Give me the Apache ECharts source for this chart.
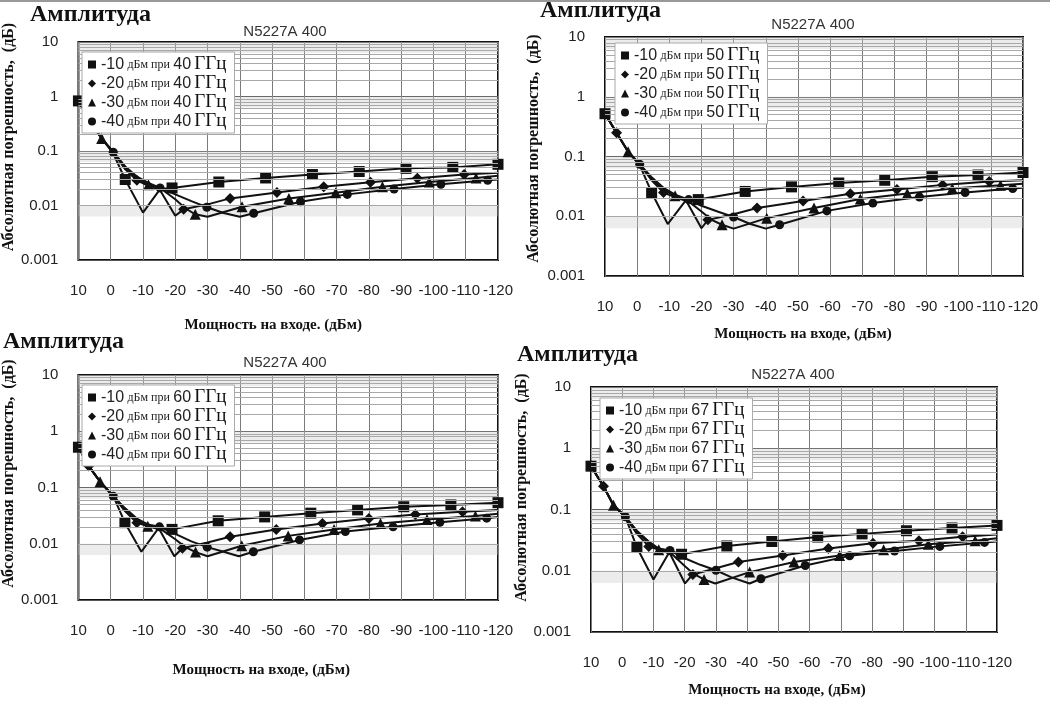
<!DOCTYPE html>
<html><head><meta charset="utf-8">
<script src="https://cdn.jsdelivr.net/npm/echarts@6/dist/echarts.min.js"></script>
<style>html,body{margin:0;padding:0;background:#fff}#c{width:1050px;height:704px}</style>
</head><body><div id="c"></div>
<script>
// ---------- data ----------
const freqs = ['40', '50', '60', '67'];
const levelNames = ['-10 дБм при', '-20 дБм при', '-30 дБм пои', '-40 дБм при'];
const yTickValues = [10, 1, 0.1, 0.01, 0.001];
const xMin = -120, xMax = 10;

// which points of each series carry a marker (1) or are plain line vertices (0)
const marksM10 = [1,0,0,0,1,0,0,1,1,1,1,1,1,1,1];
const marksM20 = [0,1,0,0,0,1,0,0,0,1,0,1,1,1,1,1,1,0];
const marksM30 = [0,0,1,0,0,0,1,0,0,0,1,0,1,1,1,1,1,1,0];
const marksM40 = [0,0,0,1,0,0,0,1,0,0,1,0,0,1,1,1,1,1,1,0];

// 40 GHz
const f40_m10 = [[10,0.83],[6.4,0.35],[2.8,0.17],[-0.8,0.09],[-4.5,0.030],[-10,0.0074],[-15.3,0.020],[-19,0.021],[-33.5,0.027],[-48,0.032],[-62.5,0.037],[-77,0.042],[-91.5,0.048],[-106,0.050],[-120,0.057]];
const f40_m20 = [[10,0.83],[6.4,0.35],[2.8,0.17],[-0.8,0.095],[-4.5,0.046],[-8.1,0.029],[-11.7,0.023],[-15.3,0.019],[-20,0.0065],[-22.6,0.0085],[-30,0.0105],[-37,0.0135],[-51.5,0.0174],[-66,0.022],[-80.5,0.0266],[-95,0.0316],[-109.5,0.037],[-120,0.040]];
const f40_m30 = [[10,0.83],[6.4,0.35],[2.8,0.17],[-0.8,0.095],[-4.5,0.05],[-8.1,0.032],[-11.7,0.024],[-15.3,0.021],[-20,0.013],[-23,0.009],[-26.2,0.0069],[-30,0.0062],[-40.7,0.0095],[-55.2,0.0135],[-69.7,0.0171],[-84.2,0.022],[-98.7,0.027],[-113.2,0.032],[-120,0.035]];
const f40_m40 = [[10,0.83],[6.4,0.35],[2.8,0.17],[-0.8,0.095],[-4.5,0.052],[-8.1,0.034],[-11.7,0.026],[-15.3,0.021],[-20,0.016],[-25,0.012],[-29.8,0.0093],[-35,0.0073],[-40,0.0062],[-44.3,0.0072],[-58.8,0.0117],[-73.3,0.016],[-87.8,0.020],[-102.3,0.0245],[-116.8,0.029],[-120,0.030]];

// 50 GHz
const f50_m10 = [[10,0.52],[6.4,0.25],[2.8,0.12],[-0.8,0.072],[-4.5,0.025],[-9.5,0.0074],[-15.3,0.019],[-19,0.019],[-33.6,0.026],[-48,0.031],[-62.7,0.036],[-77,0.040],[-91.8,0.046],[-106,0.049],[-120,0.054]];
const f50_m20 = [[10,0.52],[6.4,0.25],[2.8,0.12],[-0.8,0.074],[-4.5,0.040],[-8.2,0.025],[-11.7,0.021],[-15.3,0.018],[-20,0.0063],[-22,0.0087],[-30,0.0108],[-37.3,0.0137],[-51.6,0.018],[-66.3,0.0237],[-80.8,0.028],[-95,0.0335],[-109.5,0.038],[-120,0.040]];
const f50_m30 = [[10,0.52],[6.4,0.25],[2.8,0.12],[-0.8,0.074],[-4.5,0.043],[-8.2,0.028],[-11.8,0.022],[-15.3,0.019],[-20,0.012],[-23,0.0088],[-26.4,0.0072],[-30,0.0062],[-40.3,0.0093],[-55,0.0137],[-69.4,0.0194],[-84,0.024],[-98,0.029],[-113,0.033],[-120,0.035]];
const f50_m40 = [[10,0.52],[6.4,0.25],[2.8,0.12],[-0.8,0.074],[-4.5,0.045],[-8.2,0.030],[-11.8,0.023],[-16,0.019],[-20,0.015],[-25,0.012],[-30,0.0097],[-35,0.0075],[-40,0.0062],[-44.3,0.0072],[-59,0.0123],[-73.3,0.0166],[-87.8,0.021],[-102,0.025],[-116.8,0.029],[-120,0.030]];

// 60 GHz
const f60_m10 = [[10,0.52],[6.8,0.24],[3.3,0.127],[-0.8,0.07],[-4.4,0.0237],[-9.5,0.0072],[-15.1,0.020],[-19,0.018],[-33.3,0.0256],[-47.7,0.030],[-62,0.035],[-76.5,0.040],[-90.8,0.0455],[-105.4,0.049],[-120,0.0537]];
const f60_m20 = [[10,0.52],[6.8,0.24],[3.3,0.127],[-0.8,0.07],[-4.4,0.038],[-8.1,0.0237],[-11.5,0.0205],[-15.1,0.018],[-19.7,0.006],[-22.2,0.0083],[-30,0.0105],[-37,0.0133],[-51.3,0.018],[-65.6,0.023],[-80,0.028],[-94.4,0.033],[-109,0.037],[-120,0.040]];
const f60_m30 = [[10,0.52],[6.8,0.24],[3.3,0.127],[-0.8,0.07],[-4.4,0.041],[-8.1,0.026],[-11.5,0.0205],[-15.1,0.019],[-20,0.012],[-23,0.0088],[-26.3,0.0071],[-30,0.006],[-40.6,0.0092],[-55,0.0138],[-69.2,0.018],[-83.6,0.023],[-98,0.027],[-113,0.031],[-120,0.034]];
const f60_m40 = [[10,0.52],[6.8,0.24],[3.3,0.127],[-0.8,0.07],[-4.4,0.043],[-8.1,0.028],[-11.5,0.022],[-15.1,0.020],[-20,0.015],[-25,0.011],[-29.9,0.0087],[-35,0.0072],[-39.7,0.006],[-44.2,0.0072],[-58.5,0.0117],[-72.7,0.0165],[-87.5,0.020],[-102,0.024],[-116.5,0.0285],[-120,0.030]];

// 67 GHz
const f67_m10 = [[10,0.51],[6,0.24],[2.8,0.117],[-1,0.076],[-4.7,0.024],[-10,0.0072],[-15.3,0.021],[-19,0.0186],[-33.5,0.0254],[-47.9,0.030],[-62.6,0.0355],[-76.8,0.040],[-91,0.045],[-105.6,0.050],[-120,0.055]];
const f67_m20 = [[10,0.51],[6,0.24],[2.8,0.117],[-1,0.076],[-4.7,0.040],[-8.5,0.025],[-11.7,0.022],[-15.3,0.019],[-20.1,0.0062],[-22.6,0.0087],[-30,0.011],[-37.2,0.0139],[-51.4,0.0178],[-66,0.023],[-80.3,0.028],[-95,0.031],[-109,0.036],[-120,0.039]];
const f67_m30 = [[10,0.51],[6,0.24],[2.8,0.117],[-1,0.076],[-4.7,0.043],[-8.5,0.028],[-11.7,0.022],[-15.3,0.020],[-20,0.012],[-23,0.0088],[-26.2,0.0072],[-29.8,0.0062],[-40.8,0.0095],[-55,0.0139],[-69.6,0.0178],[-83.7,0.022],[-98,0.027],[-113,0.031],[-120,0.034]];
const f67_m40 = [[10,0.51],[6,0.24],[2.8,0.117],[-1,0.076],[-4.7,0.045],[-8.5,0.030],[-11.7,0.023],[-15.3,0.0214],[-20,0.016],[-25,0.0125],[-30,0.0102],[-35,0.0078],[-40.8,0.0062],[-44.4,0.0074],[-58.6,0.0122],[-72.8,0.0175],[-87.2,0.021],[-101.7,0.025],[-116,0.029],[-120,0.030]];

const panelSeries = [
  [f40_m10, f40_m20, f40_m30, f40_m40],
  [f50_m10, f50_m20, f50_m30, f50_m40],
  [f60_m10, f60_m20, f60_m30, f60_m40],
  [f67_m10, f67_m20, f67_m30, f67_m40]
];
const seriesMarks = [marksM10, marksM20, marksM30, marksM40];

// ---------- layout / style ----------
const symbols = ['rect', 'diamond', 'triangle', 'circle'];
const symSizes = [11, 11, 11, 9];
const layout = [
  { grid:{left:73, top:42, width:425, height:218}, legend:{left:82, top:52},
    head:{x:30, y:15}, model:{x:285, y:32}, xName:'Мощность на входе. (дБм)', xGap:58, xPad:[0,30,0,0], yGap:53, yPad:[0,0,0,28] },
  { grid:{left:605, top:37, width:418, height:239}, legend:{left:615, top:43},
    head:{x:540, y:11}, model:{x:813, y:25}, xName:'Мощность на входе, (дБм)', xGap:51, xPad:[0,22,0,0], yGap:63, yPad:[0,0,0,16] },
  { grid:{left:73, top:375, width:425, height:225}, legend:{left:82, top:385},
    head:{x:3, y:342}, model:{x:285, y:363}, xName:'Мощность на входе, (дБм)', xGap:63, xPad:[0,54,0,0], yGap:54, yPad:[0,0,0,28] },
  { grid:{left:591, top:387, width:406, height:245}, legend:{left:600, top:398},
    head:{x:517, y:355}, model:{x:793, y:375}, xName:'Мощность на входе, (дБм)', xGap:51, xPad:[0,34,0,0], yGap:54, yPad:[0,0,0,44] }
];

// minor log grid lines (2..9 per decade) and light bands in upper part of each decade
const minorLines = [];
const bands = [];
for (let e = -3; e <= 0; e++) {
  const d = Math.pow(10, e);
  for (let k = 2; k <= 9; k++) minorLines.push(+(k * d).toPrecision(3));
  bands.push([{ yAxis: +(0.63 * d * 10).toPrecision(3) }, { yAxis: +(d * 10).toPrecision(3) }]);
}

const grids = [], xAxes = [], yAxes = [], legends = [], series = [], graphics = [];
const serif = '"Liberation Serif","DejaVu Serif",serif';
const sans = '"Liberation Sans",Arial,sans-serif';

layout.forEach((L, p) => {
  grids.push(Object.assign({ show:true, borderColor:'#111', borderWidth:2, backgroundColor:'#fff', containLabel:false }, L.grid));
  xAxes.push({
    type:'value', gridIndex:p, min:xMin, max:xMax, interval:10, inverse:true,
    axisLine:{show:false}, axisTick:{show:false},
    axisLabel:{margin:23, color:'#222', fontFamily:sans, fontSize:15},
    splitLine:{show:true, lineStyle:{color:'#7a7a7a', width:1}},
    name:L.xName, nameLocation:'middle', nameGap:L.xGap,
    nameTextStyle:{fontFamily:serif, fontWeight:'bold', fontSize:15, color:'#111', padding:L.xPad}
  });
  yAxes.push({
    type:'log', logBase:10, gridIndex:p, min:yTickValues[4], max:yTickValues[0],
    axisLine:{show:false}, axisTick:{show:false},
    axisLabel:{margin:20, color:'#222', fontFamily:sans, fontSize:15,
      formatter: v => v >= 1 ? String(Math.round(v)) : String(+Number(v).toPrecision(1))},
    splitLine:{show:true, lineStyle:{color:'#555', width:1}},
    name:'Абсолютная погрешность,  (дБ)', nameLocation:'middle', nameGap:L.yGap, nameRotate:90,
    nameTextStyle:{fontFamily:serif, fontWeight:'bold', fontSize:16, color:'#111', padding:L.yPad}
  });
  const names = levelNames.map(l => `${l} ${freqs[p]} ГГц`);
  legends.push({
    left:L.legend.left, top:L.legend.top, orient:'vertical', z:20,
    backgroundColor:'#fff', borderColor:'#aaa', borderWidth:1, padding:[3,8,2,6],
    itemWidth:8, itemHeight:8, itemGap:0, selectedMode:false,
    data: names.map((n, i) => ({ name:n, icon:symbols[i] })),
    itemStyle:{color:'#111'},
    formatter: name => {
      const m = name.match(/^(\S+) (дБм \S+) (\d+) (ГГц)$/);
      return `{a|${m[1]}} {b|${m[2]}} {a|${m[3]}} {c|${m[4]}}`;
    },
    textStyle:{ lineHeight:16, rich:{
      a:{fontFamily:sans, fontSize:16, color:'#222', lineHeight:16},
      b:{fontFamily:serif, fontSize:12, color:'#222', lineHeight:16},
      c:{fontFamily:serif, fontSize:19, color:'#111', lineHeight:16}
    }}
  });
  // grid helper series (minor lines + bands)
  series.push({
    type:'line', xAxisIndex:p, yAxisIndex:p, data:[], silent:true, z:1,
    markLine:{ silent:true, symbol:'none', label:{show:false}, animation:false,
      lineStyle:{color:'#a8a8a8', width:1, type:'solid'},
      data: minorLines.map(v => ({ yAxis:v })) },
    markArea:{ silent:true, itemStyle:{color:'rgba(200,200,200,0.35)'}, label:{show:false}, data:bands }
  });
  panelSeries[p].forEach((d, i) => {
    series.push({
      name:names[i], type:'line', xAxisIndex:p, yAxisIndex:p, z:3,
      symbol:symbols[i], symbolSize:symSizes[i], showAllSymbol:true,
      itemStyle:{color:'#111'}, lineStyle:{color:'#111', width:2},
      smooth:false, animation:false,
      data: d.map((pt, k) => seriesMarks[i][k] ? pt : { value:pt, symbol:'none' })
    });
  });
  graphics.push({ type:'text', x:L.head.x, y:L.head.y,
    style:{ text:'Амплитуда', font:`bold 24px ${serif}`, fill:'#111', textVerticalAlign:'middle' } });
  graphics.push({ type:'text', x:L.model.x, y:L.model.y,
    style:{ text:'N5227A 400', font:`15px ${sans}`, fill:'#333', textAlign:'center', textVerticalAlign:'middle' } });
});
graphics.push({ type:'rect', shape:{x:0, y:0, width:1050, height:2}, style:{fill:'#999'} });

const chart = echarts.init(document.getElementById('c'), null, { renderer:'canvas' });
chart.setOption({
  animation:false, backgroundColor:'#fff',
  grid:grids, xAxis:xAxes, yAxis:yAxes, legend:legends, series:series, graphic:graphics
});
</script></body></html>
